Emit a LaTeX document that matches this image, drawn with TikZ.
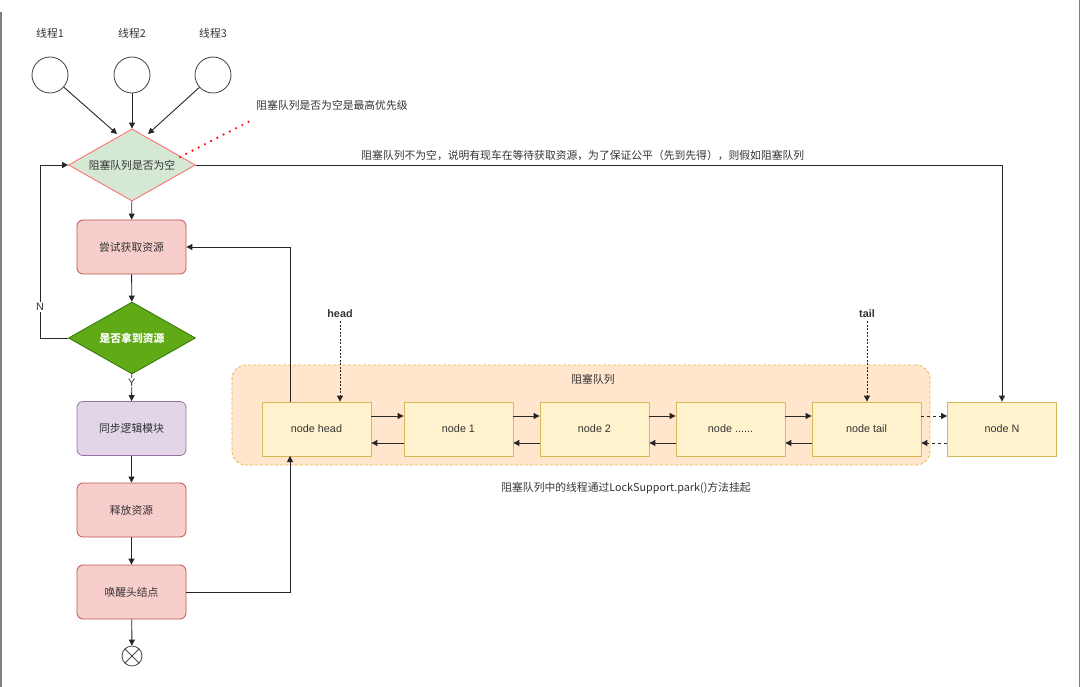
\documentclass[tikz,border=0pt]{standalone}
\usepackage{fontspec}
\setmainfont{Liberation Sans}
\newfontfamily\cjk{Noto Sans CJK SC}
\usetikzlibrary{shapes.geometric,arrows.meta}
\definecolor{txt}{HTML}{333333}
\definecolor{pinkF}{HTML}{F8CECC}\definecolor{pinkD}{HTML}{B85450}
\definecolor{greenF}{HTML}{D5E8D4}\definecolor{redD}{HTML}{FF6666}
\definecolor{dgreenF}{HTML}{60A917}\definecolor{dgreenD}{HTML}{2D7600}
\definecolor{purpF}{HTML}{E1D5E7}\definecolor{purpD}{HTML}{9673A6}
\definecolor{orF}{HTML}{FFE6CC}\definecolor{orD}{HTML}{D79B00}
\definecolor{yelF}{HTML}{FFF2CC}\definecolor{yelD}{HTML}{D6B656}
\tikzset{
  x=1pt,y=-1pt,
  every node/.style={font=\fontsize{10.8}{13}\selectfont, text=txt},
  cj/.style={font=\cjk\fontsize{10.8}{13}\selectfont},
  rbox/.style={rectangle, rounded corners=6pt, minimum width=109pt, minimum height=54pt, draw=#1, line width=0.8pt},
  qnode/.style={rectangle, minimum width=109pt, minimum height=54pt, fill=yelF, draw=yelD, line width=0.8pt},
  dia/.style={diamond, aspect=1.76, minimum width=127pt, minimum height=72pt, inner sep=0pt, line width=0.8pt},
  thr/.style={circle, draw=black!75, minimum size=36pt, inner sep=0pt, line width=0.8pt},
  arr/.style={-{Triangle[length=6pt,width=6pt]}, line width=0.9pt, draw=black!85},
  darr/.style={arr, dashed},
  parr/.style={arr, dash pattern=on 2pt off 1.5pt},
}
\begin{document}
\begin{tikzpicture}
\useasboundingbox (0,0) rectangle (1080,687);
\draw[gray, line width=1.2pt] (1,12) -- (1,687);
\draw[gray, line width=1.2pt] (1079.5,0) -- (1079.5,687);

% threads
\node[thr] (t1) at (50,75) {};
\node[thr] (t2) at (132,75) {};
\node[thr] (t3) at (213,75) {};
\node[cj] (l1) at (50,33) {线程1};
\node[cj] (l2) at (132,33) {线程2};
\node[cj] (l3) at (213,33) {线程3};

% flow
\node[dia, fill=greenF, draw=redD, cj] (d1) at (132,165) {阻塞队列是否为空};
\node[rbox=pinkD, fill=pinkF, cj] (b1) at (131.5,247) {尝试获取资源};
\node[dia, fill=dgreenF, draw=dgreenD, text=white, font=\cjk\bfseries\fontsize{10.8}{13}\selectfont] (d2) at (132,338) {是否拿到资源};
\node[rbox=purpD, fill=purpF, cj] (b2) at (131.5,428.5) {同步逻辑模块};
\node[rbox=pinkD, fill=pinkF, cj] (b3) at (131.5,510) {释放资源};
\node[rbox=pinkD, fill=pinkF, cj] (b4) at (131.5,592) {唤醒头结点};
\node[circle, draw=black!70, minimum size=20pt, inner sep=0pt, line width=0.8pt] (end) at (132,656) {};
\draw[black!70, line width=0.8pt] (end.north west) -- (end.south east) (end.north east) -- (end.south west);

\coordinate (in1) at (117,134);
\coordinate (in3) at (148,134);
\draw[arr] (t1) -- (in1);
\draw[arr] (t2) -- (d1);
\draw[arr] (t3) -- (in3);

% annotation
\node[cj] (ann) at (332,105) {阻塞队列是否为空是最高优先级};
\coordinate (annend) at (252,120);
\coordinate (annstart) at (180,157);
\draw[red, line width=2.4pt, line cap=round, dash pattern=on 0pt off 7pt] (annstart) -- (annend);

% queue container
\node[rectangle, rounded corners=14pt, minimum width=698pt, minimum height=100pt, fill=orF, draw=orD!70, densely dashed, line width=0.8pt] (q) at (581,415) {};
\node[cj] (qlabel) at (593,379) {阻塞队列};

\node[qnode] (nh) at (316.5,429) {node head};
\node[qnode] (n1) at (458.5,429) {node 1};
\node[qnode] (n2) at (594.5,429) {node 2};
\node[qnode] (nd) at (730.5,429) {node ......};
\node[qnode] (nt) at (866.5,429) {node tail};
\node[qnode] (nn) at (1002,429) {node N};

\foreach \a/\b in {nh/n1,n1/n2,n2/nd,nd/nt}{
  \draw[arr] ([yshift=13pt]\a.east) -- ([yshift=13pt]\b.west);
  \draw[arr] ([yshift=-14pt]\b.west) -- ([yshift=-14pt]\a.east);
}
\draw[darr] ([yshift=13pt]nt.east) -- ([yshift=13pt]nn.west);
\draw[darr] ([yshift=-14pt]nn.west) -- ([yshift=-14pt]nt.east);

\node[font=\bfseries\fontsize{10.8}{13}\selectfont] (hl) at (340,314) {head};
\node[font=\bfseries\fontsize{10.8}{13}\selectfont] (tl) at (867,314) {tail};
\draw[parr] (hl.south) -- (hl.south |- nh.north);
\draw[parr] (tl.south) -- (tl.south |- nt.north);

\node[cj] (cap) at (626,488) {阻塞队列中的线程通过LockSupport.park()方法挂起};

% connectors
\draw[arr] (d1) -- (b1);
\draw[arr] (b1) -- (d2);
\draw[arr] (d2) -- node[pos=0.3, fill=white, inner sep=1pt] (ylab) {Y} (b2);
\draw[arr] (b2) -- (b3);
\draw[arr] (b3) -- (b4);
\draw[arr] (b4) -- (end);
\draw[arr] (d2.west) -- (40,338) -- node[pos=0.18, fill=white, inner sep=1pt] (nlab) {N} (40,165) -- (d1.west);
\draw[arr] (d1.east) -- node[pos=0.48, above=1pt, cj] (toplab) {阻塞队列不为空，说明有现车在等待获取资源，为了保证公平（先到先得），则假如阻塞队列} (nn.north |- d1.east) -- (nn.north);
\draw[arr] (b4.east) -- (290,592) -- (290,456);
\draw[arr] (290,402) -- (290,247) -- (b1.east);
\end{tikzpicture}
\end{document}
